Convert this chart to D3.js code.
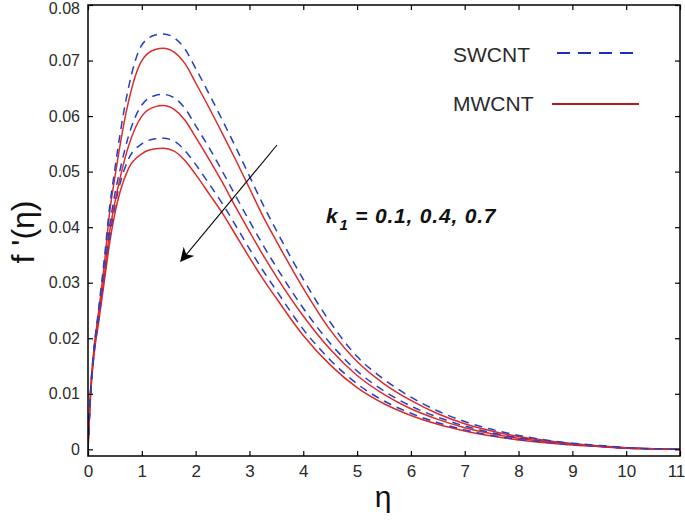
<!DOCTYPE html>
<html><head><meta charset="utf-8">
<script src="https://cdn.jsdelivr.net/npm/d3@7"></script>
<style>
html,body{margin:0;padding:0;background:#fff;}
svg{display:block;font-family:"Liberation Sans",Arial,sans-serif;}
</style></head>
<body>
<svg id="chart" width="685" height="525"></svg>
<script>
const eta = [0,0.05,0.1,0.2,0.3,0.4,0.5,0.6,0.75,1.0,1.25,1.4,1.6,1.8,2.0,2.25,2.5,2.75,3.0,3.25,3.5,4.0,4.5,5.0,5.5,6.0,6.5,7.0,7.5,8.0,8.5,9.0,9.5,10.0,10.5,11.0];
const swcnt_k01 = [0,0.011,0.017,0.0255,0.034,0.0435,0.0505,0.057,0.065,0.0728,0.0746,0.0748,0.0741,0.0721,0.0686,0.0640,0.0592,0.0543,0.0492,0.0441,0.0394,0.0306,0.0229,0.0167,0.0126,0.0094,0.0069,0.0050,0.0036,0.0025,0.0017,0.0011,0.0007,0.0003,0.0001,0];
const mwcnt_k01 = [0,0.011,0.017,0.025,0.033,0.0425,0.049,0.055,0.0625,0.0700,0.0720,0.0722,0.0715,0.0695,0.0660,0.0615,0.0568,0.0520,0.0470,0.0420,0.0375,0.0290,0.0215,0.0158,0.0118,0.0088,0.0064,0.0046,0.0033,0.0023,0.0016,0.0010,0.0006,0.0003,0.0001,0];
const swcnt_k04 = [0,0.0105,0.0165,0.0245,0.032,0.040,0.046,0.0505,0.0563,0.0620,0.0637,0.0639,0.0633,0.0614,0.0583,0.0543,0.0500,0.0455,0.0411,0.0368,0.0328,0.0254,0.0191,0.0141,0.0105,0.0078,0.0058,0.0042,0.0030,0.0021,0.0015,0.0010,0.0006,0.0003,0.0001,0];
const mwcnt_k04 = [0,0.0105,0.0165,0.024,0.031,0.039,0.0445,0.049,0.0545,0.0600,0.0617,0.0619,0.0612,0.0593,0.0562,0.0522,0.0480,0.0435,0.0392,0.0350,0.0311,0.0240,0.0180,0.0133,0.0099,0.0073,0.0054,0.0039,0.0028,0.0020,0.0014,0.0009,0.0005,0.0002,0.0001,0];
const swcnt_k07 = [0,0.010,0.016,0.0235,0.031,0.038,0.0438,0.048,0.0522,0.0550,0.0559,0.0560,0.0555,0.0538,0.0513,0.0478,0.0442,0.0402,0.0361,0.0322,0.0286,0.0216,0.0161,0.0118,0.0087,0.0065,0.0048,0.0035,0.0025,0.0018,0.0013,0.0008,0.0005,0.0002,0.0001,0];
const mwcnt_k07 = [0,0.010,0.016,0.023,0.030,0.037,0.0425,0.0465,0.0505,0.0532,0.0541,0.0542,0.0537,0.0520,0.0495,0.0460,0.0425,0.0385,0.0345,0.0307,0.0272,0.0205,0.0152,0.0111,0.0082,0.0061,0.0045,0.0033,0.0024,0.0017,0.0012,0.0008,0.0005,0.0002,0.0001,0];
const xTicks = [0,1,2,3,4,5,6,7,8,9,10,11];
const yTicks = [0,0.01,0.02,0.03,0.04,0.05,0.06,0.07,0.08];
const legendLabels = ["SWCNT","MWCNT"];
const paramLabel = " = 0.1, 0.4, 0.7";

const svg = d3.select("#chart");
const L = 88, R = 680, T = 5, B = 456;
const x = d3.scaleLinear().domain([0,11]).range([L,R]);
const y = d3.scaleLinear().domain([-0.0012,0.08]).range([B,T]);

const blue = "#2340c4", red = "#dd2a2a";

svg.append("defs").append("clipPath").attr("id","clip")
  .append("rect").attr("x",L).attr("y",T).attr("width",R-L).attr("height",B-T);

const line = d3.line().x(d=>x(d[0])).y(d=>y(d[1])).curve(d3.curveMonotoneX);
const series = [
  {v:mwcnt_k07, c:red, dash:null},
  {v:swcnt_k07, c:blue, dash:"8,6"},
  {v:mwcnt_k04, c:red, dash:null},
  {v:swcnt_k04, c:blue, dash:"8,6"},
  {v:mwcnt_k01, c:red, dash:null},
  {v:swcnt_k01, c:blue, dash:"8,6"}
];
const g = svg.append("g").attr("clip-path","url(#clip)");
series.forEach(s=>{
  g.append("path").datum(eta.map((e,i)=>[e,s.v[i]]))
    .attr("d",line).attr("fill","none").attr("stroke",s.c)
    .attr("stroke-width",1.5).attr("stroke-dasharray",s.dash);
});

// axes
const xb = d3.axisBottom(x).tickValues(xTicks).tickSize(-5).tickPadding(9).tickFormat(d3.format("d"));
const xt = d3.axisTop(x).tickValues(xTicks).tickSize(-5).tickFormat("");
const yl = d3.axisLeft(y).tickValues(yTicks).tickSize(-5).tickPadding(8).tickFormat(d=>d===0?"0":d3.format(".2f")(d));
const yr = d3.axisRight(y).tickValues(yTicks).tickSize(-5).tickFormat("");
function style(sel){ sel.select(".domain").remove(); sel.selectAll("line").attr("stroke","#000").attr("stroke-width",1.2);
  sel.selectAll("text").attr("fill","#2a2a2a").attr("font-family","Liberation Sans, Arial, sans-serif"); }
const xbg = svg.append("g").attr("transform",`translate(0,${B})`).call(xb).call(style);
xbg.selectAll("text").attr("font-size",17);
xbg.selectAll("text").filter(d=>d===11).attr("dx","-4");
svg.append("g").attr("transform",`translate(0,${T})`).call(xt).call(style);
const ylg = svg.append("g").attr("transform",`translate(${L},0)`).call(yl).call(style);
ylg.selectAll("text").attr("font-size",16);
ylg.selectAll("text").filter(d=>d===0.08).attr("dy","0.55em");
svg.append("g").attr("transform",`translate(${R},0)`).call(yr).call(style);
svg.append("rect").attr("x",L).attr("y",T).attr("width",R-L).attr("height",B-T)
  .attr("fill","none").attr("stroke","#000").attr("stroke-width",1.5);

// axis titles
svg.append("text").attr("x",383).attr("y",507).attr("text-anchor","middle")
  .attr("font-size",30).attr("fill","#111").text("η");
svg.append("text").attr("transform","translate(34,232) rotate(-90)").attr("text-anchor","middle")
  .attr("font-size",32).attr("fill","#111").text("f '(η)");

// legend
svg.append("text").attr("x",453).attr("y",62).attr("font-size",21).attr("fill","#2a2a2a").text(legendLabels[0]);
svg.append("text").attr("x",453).attr("y",111).attr("font-size",21).attr("fill","#2a2a2a").text(legendLabels[1]);
svg.append("line").attr("x1",557).attr("x2",637).attr("y1",53).attr("y2",53)
  .attr("stroke","#1a2fc0").attr("stroke-width",2).attr("stroke-dasharray","13,8");
svg.append("line").attr("x1",552).attr("x2",639).attr("y1",104).attr("y2",104)
  .attr("stroke","#b81a1a").attr("stroke-width",2.2);

// parameter annotation
const pt = svg.append("text").attr("x",326).attr("y",223).attr("font-size",21)
  .attr("font-weight","bold").attr("font-style","italic").attr("fill","#111")
  .attr("letter-spacing","0.8px");
pt.append("tspan").text("k");
pt.append("tspan").attr("font-size",15).attr("dy",7).attr("dx",1).text("1");
pt.append("tspan").attr("dy",-7).text(paramLabel);

// arrow
svg.append("defs").append("marker").attr("id","ah").attr("viewBox","0 0 10 10")
  .attr("refX",9).attr("refY",5).attr("markerWidth",14).attr("markerHeight",14)
  .attr("markerUnits","userSpaceOnUse").attr("orient","auto")
  .append("path").attr("d","M0,0 L10,5 L0,10 L3,5 Z").attr("fill","#000");
svg.append("line").attr("x1",277).attr("y1",145).attr("x2",181).attr("y2",261)
  .attr("stroke","#000").attr("stroke-width",1.1).attr("marker-end","url(#ah)");
</script>
</body></html>
